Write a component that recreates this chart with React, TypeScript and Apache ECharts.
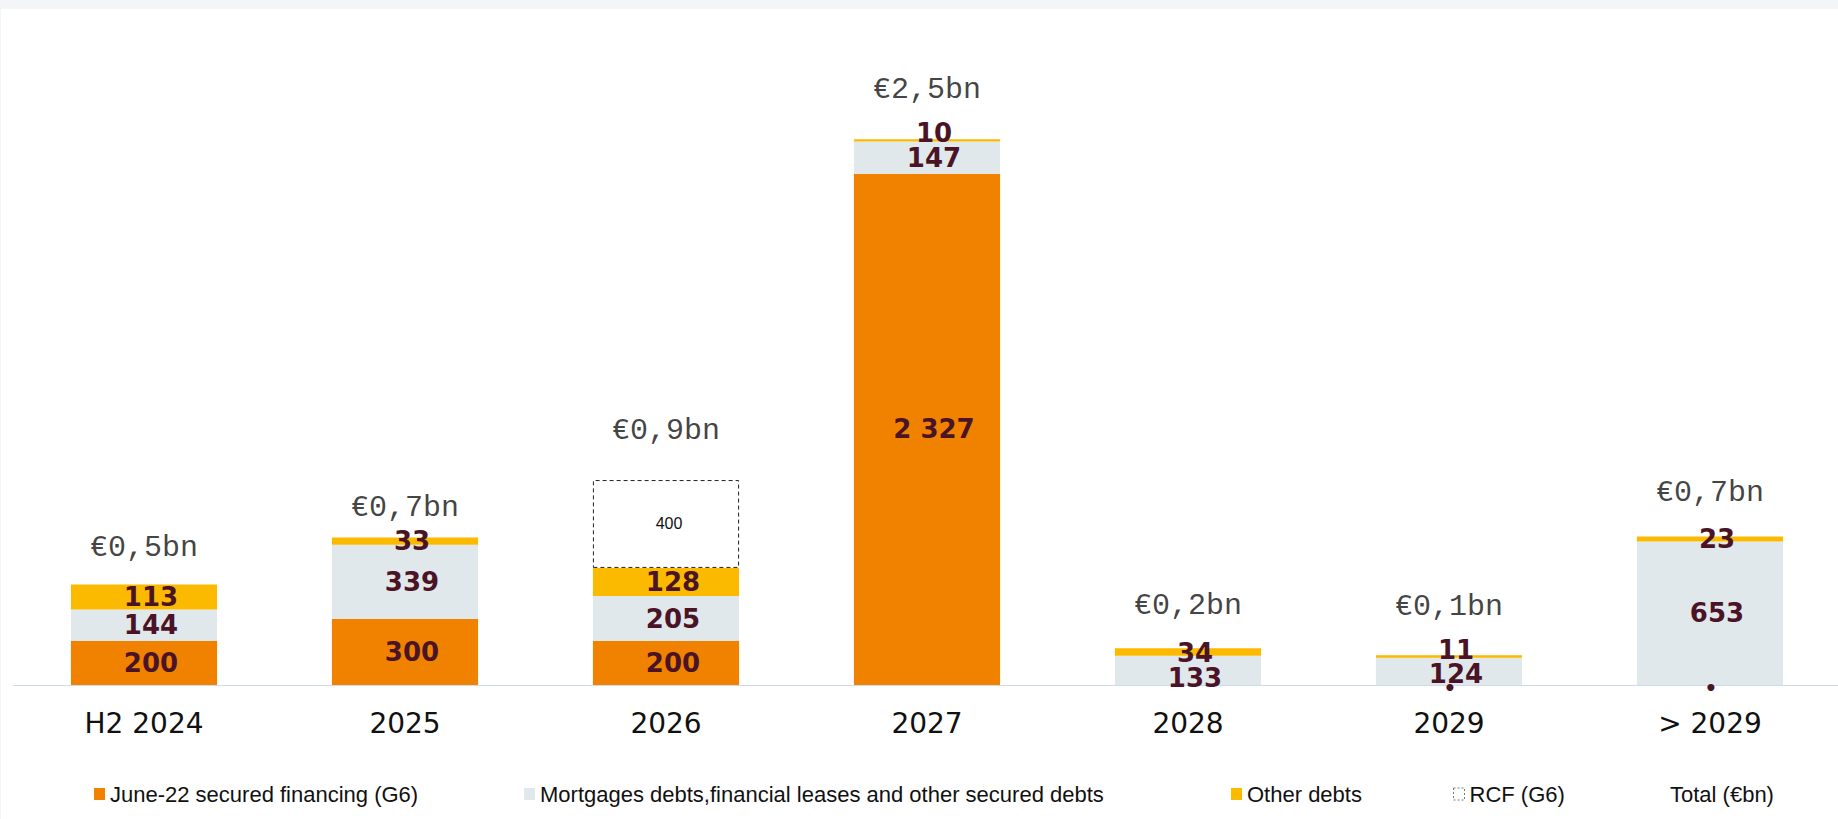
import React, { useEffect, useRef } from "react";
import * as echarts from "echarts";

const categories = ["H2 2024", "2025", "2026", "2027", "2028", "2029", "> 2029"];
const juneSecured: (number | null)[] = [200, 300, 200, 2327, null, 0, 0];
const mortgages: (number | null)[] = [144, 339, 205, 147, 133, 124, 653];
const otherDebts: (number | null)[] = [113, 33, 128, 10, 34, 11, 23];
const rcf: (number | null)[] = [null, null, 400, null, null, null, null];
const totalLabels = ["€0,5bn", "€0,7bn", "€0,9bn", "€2,5bn", "€0,2bn", "€0,1bn", "€0,7bn"];

const NAME_JUNE = "June-22 secured financing (G6)";
const NAME_MORT = "Mortgages debts,financial leases and other secured debts";
const NAME_OTHER = "Other debts";
const NAME_RCF = "RCF (G6)";
const NAME_TOTAL = "Total (€bn)";

const ORANGE = "#F08200";
const GREY = "#E1E8EC";
const YELLOW = "#FBB900";
const MAROON = "#4A1426";

const fmt = (v: number) => String(v).replace(/\B(?=(\d{3})+(?!\d))/g, " ");

// label nudges (style only)
const LABEL_DX = 7;
const mortOffsets: Record<number, number> = { 4: 8, 5: 3 };
const otherOffsets: Record<number, number> = { 3: -7, 4: 1, 5: -7 };
const totalDistances = [21, 14, 34, 34, 27, 33, 28];

function buildItems(values: (number | null)[], offsets: Record<number, number>) {
  return values.map((v, i) => {
    if (v === 0) {
      return { value: v, label: { fontSize: 20, offset: [1, 3] } };
    }
    if (offsets[i] != null) {
      return { value: v, label: { offset: [LABEL_DX, offsets[i]] } };
    }
    return v;
  });
}

export default function App() {
  const ref = useRef<HTMLDivElement>(null);
  useEffect(() => {
    if (!ref.current) return;
    const chart = echarts.init(ref.current, undefined, { renderer: "svg" });
    const totals = categories.map(
      (_, i) =>
        (juneSecured[i] || 0) + (mortgages[i] || 0) + (otherDebts[i] || 0) + (rcf[i] || 0)
    );
    const segLabel = {
      show: true,
      position: "inside",
      color: MAROON,
      fontFamily: "DejaVu Sans",
      fontWeight: "bold",
      fontSize: 26,
      offset: [LABEL_DX, 0],
      formatter: (p: any) => (p.value === 0 ? "•" : fmt(p.value)),
    };
    const legendBase = {
      top: 769,
      orient: "horizontal",
      itemWidth: 11,
      itemHeight: 12,
      selectedMode: false,
      textStyle: { fontFamily: "Liberation Sans", fontSize: 22, color: "#111" },
    };
    chart.setOption({
      animation: false,
      backgroundColor: "#ffffff",
      grid: {
        left: 12.5,
        right: -2.5,
        top: 17,
        bottom: 134,
        containLabel: false,
        outerBoundsMode: "none",
      },
      legend: [
        { ...legendBase, left: 88, data: [{ name: NAME_JUNE, icon: "rect" }] },
        { ...legendBase, left: 518, data: [{ name: NAME_MORT, icon: "rect" }] },
        { ...legendBase, left: 1225, data: [{ name: NAME_OTHER, icon: "rect" }] },
        {
          ...legendBase,
          left: 1447,
          data: [
            {
              name: NAME_RCF,
              icon: "rect",
              itemStyle: {
                color: "#ffffff",
                borderColor: "#777",
                borderWidth: 1,
                borderType: [2, 2],
              },
            },
          ],
        },
        { ...legendBase, left: 1659, itemWidth: 0, data: [{ name: NAME_TOTAL, icon: "none" }] },
      ],
      xAxis: {
        type: "category",
        data: categories,
        axisTick: { show: false },
        axisLine: { lineStyle: { color: "#cdd9ee", width: 1 } },
        axisLabel: {
          fontFamily: "DejaVu Sans",
          fontSize: 28,
          color: "#111",
          margin: 24,
          interval: 0,
        },
      },
      yAxis: {
        type: "value",
        min: 0,
        max: 3000,
        show: false,
        splitLine: { show: false },
      },
      series: [
        {
          name: NAME_JUNE,
          type: "bar",
          stack: "debt",
          barWidth: "56%",
          data: buildItems(juneSecured, {}),
          itemStyle: { color: ORANGE },
          label: segLabel,
          emphasis: { disabled: true },
        },
        {
          name: NAME_MORT,
          type: "bar",
          stack: "debt",
          barWidth: "56%",
          data: buildItems(mortgages, mortOffsets),
          itemStyle: { color: GREY },
          label: segLabel,
          emphasis: { disabled: true },
        },
        {
          name: NAME_OTHER,
          type: "bar",
          stack: "debt",
          barWidth: "56%",
          data: buildItems(otherDebts, otherOffsets),
          itemStyle: { color: YELLOW },
          label: segLabel,
          emphasis: { disabled: true },
        },
        {
          name: NAME_RCF,
          type: "bar",
          stack: "debt",
          barWidth: "56%",
          data: rcf,
          itemStyle: {
            color: "#ffffff",
            borderColor: "#222",
            borderWidth: 1,
            borderType: [4, 3],
          },
          label: {
            show: true,
            position: "inside",
            offset: [3, 0],
            color: "#111",
            fontFamily: "Liberation Sans",
            fontSize: 16,
          },
          emphasis: { disabled: true },
        },
        {
          name: NAME_TOTAL,
          type: "scatter",
          symbolSize: 1,
          itemStyle: { color: "rgba(0,0,0,0)" },
          data: totals.map((t, i) => ({ value: t, label: { distance: totalDistances[i] } })),
          label: {
            show: true,
            position: "top",
            fontFamily: "Liberation Mono",
            fontSize: 30,
            lineHeight: 30,
            color: "#111",
            formatter: (p: any) => totalLabels[p.dataIndex],
          },
          emphasis: { disabled: true },
          z: 5,
        },
      ],
    });
    return () => chart.dispose();
  }, []);
  return (
    <div
      style={{
        position: "fixed",
        left: 0,
        top: 0,
        width: 1838,
        height: 819,
        background: "#f4f5f7",
      }}
    >
      <div
        ref={ref}
        style={{ position: "absolute", left: 1, top: 9, width: 1837, height: 810, background: "#fff" }}
      />
    </div>
  );
}
